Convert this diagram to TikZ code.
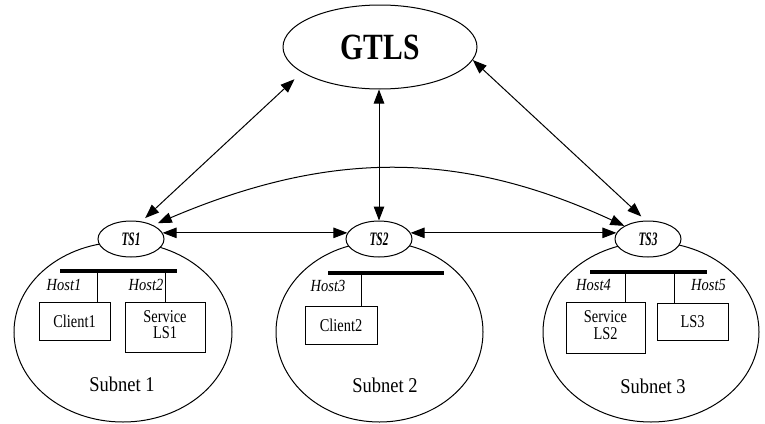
\documentclass[tikz,border=0pt]{standalone}
\usepackage{fontspec}
\setmainfont{Liberation Serif}
\usepackage{graphicx}
\usetikzlibrary{arrows.meta,shapes.geometric}
\newcommand{\hsq}[2]{\scalebox{#1}[1]{#2}}
\begin{document}
\begin{tikzpicture}[x=1pt,y=-1pt,
  thinline/.style={line width=1pt},
  ell/.style={ellipse, draw, line width=1pt, inner sep=0pt},
  tsnode/.style={ell, fill=white, minimum width=66pt, minimum height=36pt, font=\fontsize{19}{20}\selectfont\bfseries\itshape},
  subnet/.style={ell, minimum height=180pt},
  box/.style={draw, line width=1pt, inner sep=0pt, align=center, font=\fontsize{18}{15.5}\selectfont},
  hostlbl/.style={inner sep=0pt, font=\fontsize{17}{18}\selectfont\itshape},
  netlbl/.style={inner sep=0pt, font=\fontsize{21}{22}\selectfont},
  bus/.style={line width=3.2pt},
  link/.style={line width=1pt, {Triangle[length=14pt,width=10.5pt]}-{Triangle[length=14pt,width=10.5pt]}},
]
\useasboundingbox (0,0) rectangle (765,423);

% subnets
\node[subnet, minimum width=218pt] (sn1) at (123,332) {};
\node[subnet, minimum width=207pt] (sn2) at (379.5,332) {};
\node[subnet, minimum width=216pt] (sn3) at (651,332) {};

% GTLS and TS nodes
\node[ell, minimum width=194pt, minimum height=84pt, font=\fontsize{37}{40}\selectfont\bfseries] (gtls) at (380,47) {\hsq{0.8}{GTLS}};
\node[tsnode] (ts1) at (131,239) {\hsq{0.6}{TS1}};
\node[tsnode] (ts2) at (379,239) {\hsq{0.6}{TS2}};
\node[tsnode] (ts3) at (648,239) {\hsq{0.6}{TS3}};

% links
\draw[link, shorten <=5pt, shorten >=10pt] (ts1.59) -- (gtls.198);
\draw[link, shorten <=6pt] (ts3.97) -- (gtls.-8);
\draw[link] (ts2.north) -- (ts2.north |- gtls.south);
\draw[link] (ts1.11) -- (ts2.169);
\draw[link] (ts2.11) -- (ts3.169);
\draw[link, shorten <=5pt] (ts1.32) .. controls (330,150) and (460,150) .. (ts3.151);

% subnet 1
\coordinate (b1l) at (60,271); \coordinate (b1r) at (177,271);
\draw[bus] (b1l) -- (b1r);
\node[box, minimum width=71pt, minimum height=38pt] (client1) at (74.5,321) {\hsq{0.8}{Client1}};
\node[box, minimum width=80pt, minimum height=50pt] (ls1) at (165,327) {\hsq{0.8}{\begin{tabular}{@{}c@{}}Service\\LS1\end{tabular}}};
\coordinate (t1) at (97,271); \coordinate (t2) at (165,271);
\draw[thinline] (t1) -- (t1 |- client1.north);
\draw[thinline] (t2) -- (t2 |- ls1.north);
\node[hostlbl] (h1) at (64,285) {\hsq{0.85}{Host1}};
\node[hostlbl] (h2) at (146,285) {\hsq{0.85}{Host2}};
\node[netlbl] (n1) at (122,384) {\hsq{0.88}{Subnet 1}};

% subnet 2
\coordinate (b2l) at (328,273); \coordinate (b2r) at (444,273);
\draw[bus] (b2l) -- (b2r);
\node[box, minimum width=72pt, minimum height=38pt] (client2) at (341,325) {\hsq{0.8}{Client2}};
\coordinate (t3) at (361,273);
\draw[thinline] (t3) -- (t3 |- client2.north);
\node[hostlbl] (h3) at (328,286) {\hsq{0.85}{Host3}};
\node[netlbl] (n2) at (385,385) {\hsq{0.88}{Subnet 2}};

% subnet 3
\coordinate (b3l) at (590,272); \coordinate (b3r) at (707,272);
\draw[bus] (b3l) -- (b3r);
\node[box, minimum width=79pt, minimum height=51pt] (ls2) at (605.5,327.5) {\hsq{0.8}{\begin{tabular}{@{}c@{}}Service\\LS2\end{tabular}}};
\node[box, minimum width=71pt, minimum height=37pt] (ls3) at (692.5,321.5) {\hsq{0.8}{LS3}};
\coordinate (t4) at (625,272); \coordinate (t5) at (674,272);
\draw[thinline] (t4) -- (t4 |- ls2.north);
\draw[thinline] (t5) -- (t5 |- ls3.north);
\node[hostlbl] (h4) at (593.5,285) {\hsq{0.85}{Host4}};
\node[hostlbl] (h5) at (708.5,285) {\hsq{0.85}{Host5}};
\node[netlbl] (n3) at (653,386) {\hsq{0.88}{Subnet 3}};
\end{tikzpicture}
\end{document}
